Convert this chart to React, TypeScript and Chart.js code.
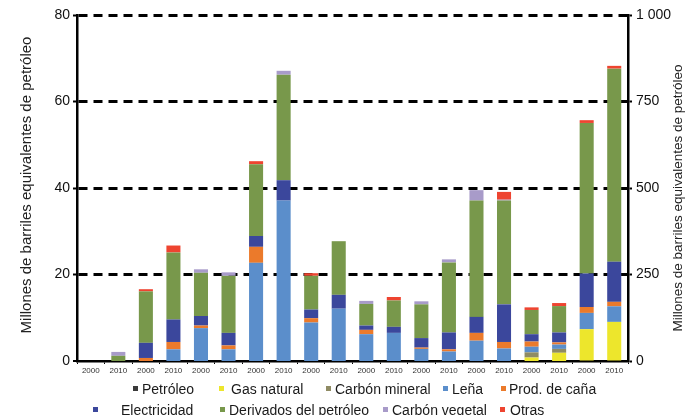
import React, { useEffect, useRef } from 'react';
import { Chart, registerables } from 'chart.js';

Chart.register(...registerables);

// Ten countries, two years each
const categories = [
  '2000', '2010', '2000', '2010', '2000', '2010', '2000', '2010', '2000', '2010',
  '2000', '2010', '2000', '2010', '2000', '2010', '2000', '2010', '2000', '2010',
];

// Segment values per bar. The first 18 bars read against the left axis (0-80),
// the last two bars read against the right axis (0-1 000).
const petroleo = [0, 0, 0, 0, 0, 0, 0, 0, 0, 0, 0, 0, 0, 0, 0, 0, 0, 0, 0, 0];
const gasNatural = [0, 0, 0, 0, 0, 0, 0, 0, 0, 0, 0, 0, 0, 0, 0, 0, 0.8, 1.9, 92, 113];
const carbonMineral = [0, 0, 0, 0, 0, 0, 0, 0, 0, 0, 0, 0, 0, 0, 0, 0, 1.2, 0.9, 0, 0];
const lena = [0, 0, 0, 2.7, 7.6, 2.7, 22.7, 37.1, 8.9, 12.1, 6.2, 6.5, 2.8, 2.2, 4.7, 2.9, 1.3, 1.0, 47, 45];
const prodCana = [0, 0, 0.7, 1.7, 0.6, 0.9, 3.7, 0, 1.0, 0, 1.0, 0, 0.3, 0.5, 1.8, 1.5, 1.2, 0.5, 17, 13];
const electricidad = [0, 0, 3.5, 5.2, 2.2, 2.9, 2.5, 4.7, 2.0, 3.2, 1.0, 1.4, 2.2, 3.9, 3.7, 8.7, 1.7, 2.3, 97, 116];
const derivados = [0, 1.2, 11.9, 15.5, 10.0, 13.2, 16.6, 24.4, 7.8, 12.4, 5.0, 6.1, 7.8, 16.2, 26.9, 24.0, 5.6, 6.1, 435, 558];
const carbonVegetal = [0, 0.9, 0, 0, 0.8, 0.8, 0, 0.9, 0, 0, 0.7, 0, 0.7, 0.7, 2.4, 0.2, 0, 0, 0, 0];
const otras = [0, 0, 0.5, 1.6, 0, 0, 0.7, 0, 0.6, 0, 0, 0.8, 0, 0, 0, 1.8, 0.6, 0.7, 8, 8];

const RIGHT_AXIS_FROM = 18;

const leftTicks = [0, 20, 40, 60, 80];
const rightTicks = [0, 250, 500, 750, 1000];

const axisTitle = 'Millones de barriles equivalentes de petróleo';

const series = [
  { label: 'Petróleo', data: petroleo, color: '#3a3a3a' },
  { label: 'Gas natural', data: gasNatural, color: '#ede62c' },
  { label: 'Carbón mineral', data: carbonMineral, color: '#8f8b64' },
  { label: 'Leña', data: lena, color: '#5b8ecb' },
  { label: 'Prod. de caña', data: prodCana, color: '#eb7a2b' },
  { label: 'Electricidad', data: electricidad, color: '#3b479c' },
  { label: 'Derivados del petróleo', data: derivados, color: '#78984b' },
  { label: 'Carbón vegetal', data: carbonVegetal, color: '#a89bc9' },
  { label: 'Otras', data: otras, color: '#ee4430' },
];

const FONT = "'Liberation Sans', Arial, Helvetica, sans-serif";

// legend layout (two rows, as in the reference)
const legendLayout = [
  { row: 0, marker: 133, text: 142 },
  { row: 0, marker: 219, text: 231 },
  { row: 0, marker: 326, text: 335 },
  { row: 0, marker: 443, text: 452 },
  { row: 0, marker: 501, text: 509 },
  { row: 1, marker: 93, text: 121 },
  { row: 1, marker: 220, text: 229 },
  { row: 1, marker: 383, text: 392 },
  { row: 1, marker: 500, text: 510 },
];
const legendRowY = [389, 410];

const fmtThousands = (v: number) => String(v).replace(/\B(?=(\d{3})+(?!\d))/g, ' ');

const titlesPlugin = {
  id: 'axisTitles',
  afterDraw(chart: any) {
    const { ctx, chartArea } = chart;
    ctx.save();
    ctx.fillStyle = '#222';
    ctx.textAlign = 'center';
    ctx.textBaseline = 'middle';
    ctx.font = `15px ${FONT}`;
    ctx.translate(27, 185);
    ctx.rotate(-Math.PI / 2);
    ctx.fillText(axisTitle, 0, 0);
    ctx.restore();
    ctx.save();
    ctx.fillStyle = '#222';
    ctx.textAlign = 'center';
    ctx.textBaseline = 'middle';
    ctx.font = `13.5px ${FONT}`;
    ctx.translate(678, 198);
    ctx.rotate(-Math.PI / 2);
    ctx.fillText(axisTitle, 0, 0);
    ctx.restore();
  },
};

export default function App() {
  const ref = useRef<HTMLCanvasElement | null>(null);

  useEffect(() => {
    if (!ref.current) return;
    const datasets: any[] = [];
    series.forEach((s) => {
      datasets.push({
        label: s.label,
        data: s.data.map((v, i) => (i < RIGHT_AXIS_FROM ? v : null)),
        backgroundColor: s.color,
        borderWidth: 0,
        yAxisID: 'y',
        stack: 'all',
      });
    });
    series.forEach((s) => {
      datasets.push({
        label: s.label + ' (eje derecho)',
        data: s.data.map((v, i) => (i >= RIGHT_AXIS_FROM ? v : null)),
        backgroundColor: s.color,
        borderWidth: 0,
        yAxisID: 'y2',
        stack: 'all',
      });
    });

    const chart = new Chart(ref.current, {
      type: 'bar',
      data: { labels: categories, datasets },
      options: {
        animation: false,
        responsive: false,
        maintainAspectRatio: false,
        layout: { padding: { left: 0, right: 0, top: 15, bottom: 34 } },
        plugins: { legend: { display: false }, tooltip: { enabled: false } },
        datasets: { bar: { barPercentage: 0.51, categoryPercentage: 1 } },
        scales: {
          x: {
            stacked: true,
            offset: true,
            grid: {
              display: true,
              drawOnChartArea: false,
              offset: true,
              color: '#000',
              lineWidth: 1,
              tickLength: 3,
            },
            border: { display: true, color: '#000', width: 2.5 },
            ticks: {
              font: { family: FONT, size: 8 },
              color: '#333',
              padding: 2,
              maxRotation: 0,
              autoSkip: false,
            },
            afterFit: (s: any) => {
              s.height = 20;
            },
          },
          y: {
            position: 'left',
            stacked: true,
            min: leftTicks[0],
            max: leftTicks[leftTicks.length - 1],
            afterBuildTicks: (s: any) => {
              s.ticks = leftTicks.map((v) => ({ value: v }));
            },
            ticks: {
              font: { family: FONT, size: 14 },
              color: '#111',
              padding: 3,
            },
            grid: {
              color: '#000',
              lineWidth: (c: any) => (c.tick && c.tick.value === 0 ? 0 : 3),
              tickLength: 4,
              tickWidth: 2,
              tickColor: '#000',
              tickBorderDash: [],
            },
            border: { display: true, color: '#000', width: 2.5, dash: [9, 6] },
            afterFit: (s: any) => {
              s.width = 77;
            },
          },
          y2: {
            position: 'right',
            stacked: true,
            min: rightTicks[0],
            max: rightTicks[rightTicks.length - 1],
            afterBuildTicks: (s: any) => {
              s.ticks = rightTicks.map((v) => ({ value: v }));
            },
            ticks: {
              font: { family: FONT, size: 14 },
              color: '#111',
              padding: 4,
              callback: (v: any) => fmtThousands(Number(v)),
            },
            grid: {
              drawOnChartArea: false,
              tickLength: 4,
              tickWidth: 2,
              tickColor: '#000',
              color: '#000',
            },
            border: { display: true, color: '#000', width: 2.5 },
            afterFit: (s: any) => {
              s.width = 64;
            },
          },
        },
      },
      plugins: [titlesPlugin],
    } as any);
    return () => chart.destroy();
  }, []);

  return (
    <div style={{ position: 'fixed', left: 0, top: 0, width: 692, height: 415, background: '#fff' }}>
      <canvas ref={ref} width={692} height={415} style={{ display: 'block', width: 692, height: 415 }} />
      {series.map((s, i) => {
        const l = legendLayout[i];
        const cy = legendRowY[l.row];
        return (
          <React.Fragment key={s.label}>
            <div
              style={{
                position: 'absolute',
                left: l.marker,
                top: cy - 3,
                width: 5,
                height: 5,
                background: s.color,
              }}
            />
            <div
              style={{
                position: 'absolute',
                left: l.text,
                top: cy - 9,
                height: 18,
                lineHeight: '18px',
                fontFamily: FONT,
                fontSize: 14,
                color: '#1a1a1a',
                whiteSpace: 'nowrap',
              }}
            >
              {s.label}
            </div>
          </React.Fragment>
        );
      })}
    </div>
  );
}
